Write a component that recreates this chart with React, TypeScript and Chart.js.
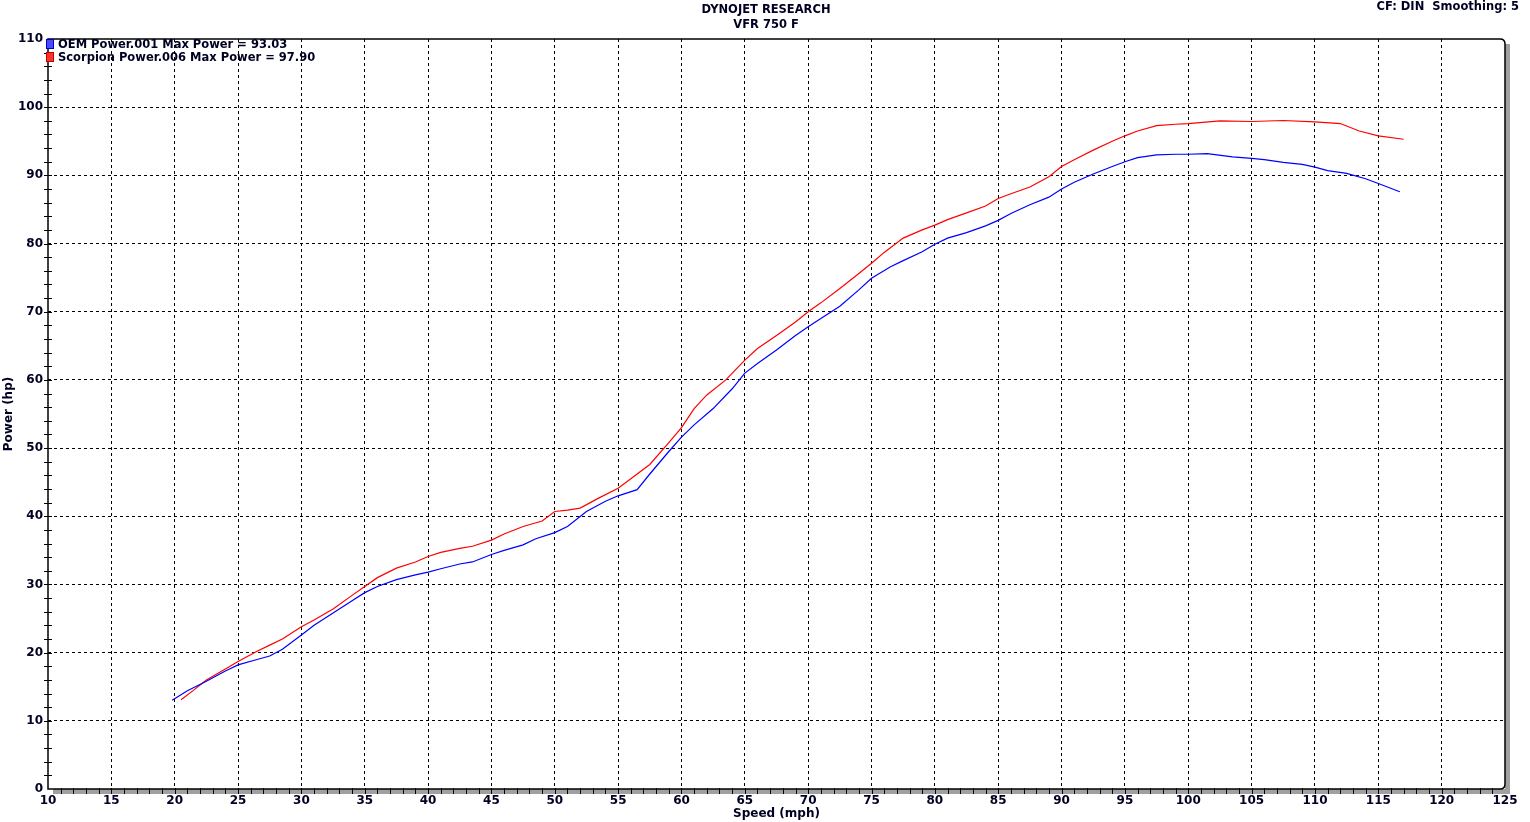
import React, { useEffect, useRef } from "react";
import { Chart, registerables } from "chart.js";

Chart.register(...registerables);

const oemSpeed = [19.8, 21, 22.5, 24, 25, 26.5, 27.5, 28.5, 30, 31, 32.5, 34, 35, 36, 37.5, 39, 40, 41, 42.5, 43.5, 45, 46, 47.5, 48.5, 50, 51, 52.5, 54, 55, 56.5, 57.5, 59, 60, 61, 62.5, 64, 65, 66, 67.5, 69, 70, 71, 72.5, 74, 75, 76.5, 77.5, 79, 80, 81, 82.5, 84, 85, 86, 87.5, 89, 90, 91, 92.5, 94, 95, 96, 97.5, 99, 100, 101.5, 103.5, 105, 106, 107.5, 109, 110, 111, 112.5, 114, 115, 116.7];
const oemPower = [13.0, 14.4, 15.8, 17.3, 18.2, 19.0, 19.5, 20.5, 22.6, 24.0, 25.8, 27.6, 28.8, 29.7, 30.7, 31.4, 31.8, 32.3, 33.0, 33.3, 34.4, 35.0, 35.8, 36.7, 37.6, 38.5, 40.7, 42.2, 43.0, 43.9, 46.2, 49.5, 51.6, 53.4, 55.8, 58.7, 61.0, 62.4, 64.4, 66.5, 67.8, 69.0, 70.8, 73.2, 74.9, 76.6, 77.5, 78.8, 79.9, 80.8, 81.6, 82.6, 83.4, 84.4, 85.7, 86.8, 88.0, 89.0, 90.2, 91.3, 92.0, 92.6, 93.0, 93.1, 93.1, 93.2, 92.7, 92.5, 92.3, 91.9, 91.6, 91.2, 90.7, 90.3, 89.5, 88.8, 87.6];

const scorpSpeed = [20.5, 21.5, 22.5, 24, 25, 26.5, 27.5, 28.5, 30, 31, 32.5, 34, 35, 36, 37.5, 39, 40, 41, 42.5, 43.5, 45, 46, 47.5, 49, 50, 51, 52, 53.5, 55, 56, 57.5, 59, 60, 61, 62, 63.5, 65, 66, 67.5, 69, 70, 71, 72.5, 74, 75, 76, 77.5, 79, 80, 81, 82.5, 84, 85, 86, 87.5, 89, 90, 91, 92.5, 94, 95, 96, 97.5, 99, 100, 102.5, 105, 107.5, 110, 112, 113.5, 115, 117];
const scorpPower = [13.1, 14.5, 16.0, 17.6, 18.7, 20.2, 21.1, 22.0, 23.8, 24.8, 26.4, 28.4, 29.7, 31.0, 32.4, 33.3, 34.1, 34.7, 35.3, 35.6, 36.5, 37.4, 38.5, 39.3, 40.7, 40.9, 41.2, 42.7, 44.1, 45.5, 47.6, 50.8, 53.0, 55.8, 57.8, 60.0, 62.9, 64.6, 66.5, 68.5, 70.0, 71.3, 73.4, 75.6, 77.1, 78.7, 80.8, 82.0, 82.7, 83.5, 84.5, 85.5, 86.6, 87.3, 88.3, 89.8, 91.3, 92.3, 93.7, 95.0, 95.8, 96.5, 97.3, 97.5, 97.6, 98.0, 97.9, 98.05, 97.85, 97.6, 96.5, 95.8, 95.3];

const legendLabels = ["OEM Power.001 Max Power = 93.03", "Scorpion Power.006 Max Power = 97.90"];
const titleLines = ["DYNOJET RESEARCH", "VFR 750 F"];
const cornerNote = "CF: DIN  Smoothing: 5";

const FONT = "DejaVu Sans";
const TXT = "#000022";

const decorPlugin = {
  id: "decor",
  beforeDraw(chart: any) {
    const { ctx, chartArea: a } = chart;
    ctx.save();
    ctx.fillStyle = "#ffffff";
    ctx.fillRect(0, 0, chart.width, chart.height);
    ctx.fillStyle = "#a0a0a0";
    ctx.fillRect(a.left + 5, a.bottom, a.right - a.left, 5);
    ctx.fillRect(a.right, a.top + 5, 5, a.bottom - a.top);
    ctx.restore();
  },
  afterDraw(chart: any) {
    const { ctx, chartArea: a, scales } = chart;
    const xs = scales.x;
    const ys = scales.y;
    ctx.save();
    ctx.strokeStyle = "#000";
    ctx.lineWidth = 1.5;
    const r = 5;
    ctx.beginPath();
    ctx.moveTo(a.left, a.top);
    ctx.lineTo(a.right - r, a.top);
    ctx.quadraticCurveTo(a.right, a.top, a.right, a.top + r);
    ctx.lineTo(a.right, a.bottom - r);
    ctx.quadraticCurveTo(a.right, a.bottom, a.right - r, a.bottom);
    ctx.lineTo(a.left, a.bottom);
    ctx.closePath();
    ctx.stroke();
    ctx.lineWidth = 1;
    ctx.beginPath();
    for (let v = 2; v < 110; v += 2) {
      const y = Math.round(ys.getPixelForValue(v)) + 0.5;
      ctx.moveTo(a.left - 4, y);
      ctx.lineTo(a.left + 4, y);
    }
    for (let v = 11; v < 125; v += 1) {
      const x = Math.round(xs.getPixelForValue(v)) + 0.5;
      ctx.moveTo(x, a.bottom - 1);
      ctx.lineTo(x, a.bottom + 5);
    }
    ctx.stroke();
    ctx.fillStyle = TXT;
    ctx.font = `bold 11.5px "${FONT}"`;
    ctx.textAlign = "center";
    ctx.textBaseline = "middle";
    ctx.fillText(titleLines[0], 766, 10);
    ctx.fillText(titleLines[1], 766, 25);
    ctx.textAlign = "right";
    ctx.fillText(cornerNote, 1519, 7);
    const colors = [["#4a4aff", "#0000c0"], ["#ff3030", "#c00000"]];
    ctx.textAlign = "left";
    ctx.font = `bold 11.5px "${FONT}"`;
    for (let i = 0; i < 2; i++) {
      const yTop = 39 + i * 13;
      ctx.fillStyle = colors[i][0];
      ctx.fillRect(46, yTop, 7, 9);
      ctx.strokeStyle = colors[i][1];
      ctx.strokeRect(46.5, yTop + 0.5, 7, 9);
      ctx.fillStyle = TXT;
      ctx.fillText(legendLabels[i], 58, yTop + 6);
    }
    ctx.restore();
  },
};

export default function App() {
  const ref = useRef<HTMLCanvasElement | null>(null);
  useEffect(() => {
    if (!ref.current) return;
    const gridColor = (min: number, max: number) => (c: any) => {
      const v = c.tick ? c.tick.value : null;
      return v === min || v === max ? "rgba(0,0,0,0)" : "#000";
    };
    const tickFont = { family: FONT, size: 12, weight: "bold" };
    const chart = new Chart(ref.current, {
      type: "line",
      data: {
        datasets: [
          {
            label: legendLabels[0],
            data: oemSpeed.map((s, i) => ({ x: s, y: oemPower[i] })),
            borderColor: "#0000ff",
            borderWidth: 1.2,
            pointRadius: 0,
            tension: 0,
            fill: false,
          },
          {
            label: legendLabels[1],
            data: scorpSpeed.map((s, i) => ({ x: s, y: scorpPower[i] })),
            borderColor: "#ff0000",
            borderWidth: 1.2,
            pointRadius: 0,
            tension: 0,
            fill: false,
          },
        ],
      },
      options: {
        responsive: false,
        animation: false,
        layout: { padding: { top: 39, right: 25, left: 0, bottom: 0 } },
        plugins: { legend: { display: false }, tooltip: { enabled: false }, title: { display: false } },
        scales: {
          x: {
            type: "linear",
            min: 10,
            max: 125,
            afterFit: (s: any) => { s.height = 33; },
            ticks: { stepSize: 5, color: TXT, font: tickFont, padding: 5, maxRotation: 0, autoSkip: false },
            grid: { color: gridColor(10, 125), drawTicks: false, lineWidth: 1 },
            border: { display: false, dash: [3, 3] },
            title: { display: true, text: "Speed (mph)", color: TXT, font: tickFont, padding: { top: 0, bottom: 1 } },
          },
          y: {
            type: "linear",
            min: 0,
            max: 110,
            afterFit: (s: any) => { s.width = 48; },
            ticks: { stepSize: 10, color: TXT, font: tickFont, padding: 5 },
            grid: { color: gridColor(0, 110), drawTicks: false, lineWidth: 1 },
            border: { display: false, dash: [3, 3] },
            title: { display: true, text: "Power (hp)", color: TXT, font: tickFont, padding: { top: 2, bottom: 0 } },
          },
        },
      },
      plugins: [decorPlugin],
    } as any);
    return () => chart.destroy();
  }, []);
  return (
    <div style={{ position: "fixed", left: 0, top: 0, width: 1530, height: 822, background: "#fff" }}>
      <canvas ref={ref} width={1530} height={822} style={{ display: "block" }} />
    </div>
  );
}
